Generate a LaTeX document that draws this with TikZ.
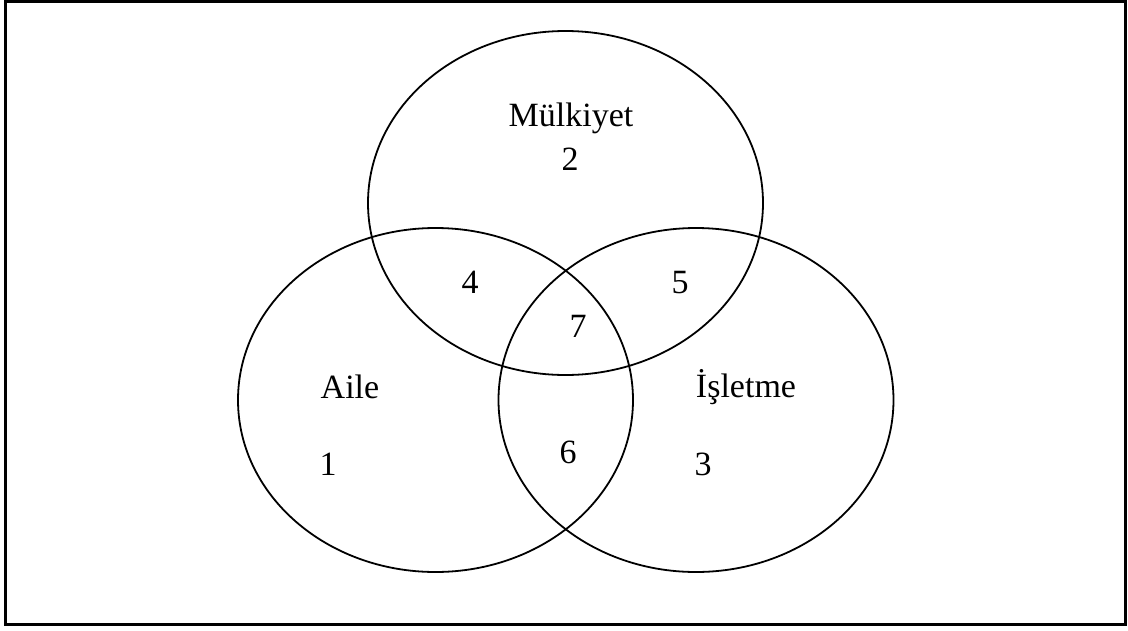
\documentclass[tikz,border=0pt]{standalone}
\usepackage{fontspec}
\setmainfont{Liberation Serif}
\usetikzlibrary{shapes.geometric}
\tikzset{
  venn/.style={ellipse, draw=black, line width=1.8pt, inner sep=0pt,
    minimum width=395pt, minimum height=344pt},
  lbl/.style={anchor=base, inner sep=0pt, font=\fontsize{34}{40}\selectfont},
  frame/.style={draw=black, line width=3pt}
}
\begin{document}
\begin{tikzpicture}[x=1pt,y=-1pt]
\useasboundingbox (0,0) rectangle (1128,630);
\node[frame, minimum width=1119.5pt, minimum height=622.5pt, inner sep=0pt] (frm) at (565.25,312.75) {};
\node[venn] (own) at (565.5,203) {};
\node[venn] (fam) at (435.5,400) {};
\node[venn] (bus) at (696,400) {};
\node[lbl] (t-own) at (571,126) {Mülkiyet};
\node[lbl] (n2) at (570,170) {2};
\node[lbl] (t-fam) at (350,398) {Aile};
\node[lbl] (n1) at (328,475) {1};
\node[lbl] (t-bus) at (746,397) {İşletme};
\node[lbl] (n3) at (703,475) {3};
\node[lbl] (n4) at (470,293) {4};
\node[lbl] (n5) at (680,293) {5};
\node[lbl] (n7) at (578,337) {7};
\node[lbl] (n6) at (568,463) {6};
\end{tikzpicture}
\end{document}
